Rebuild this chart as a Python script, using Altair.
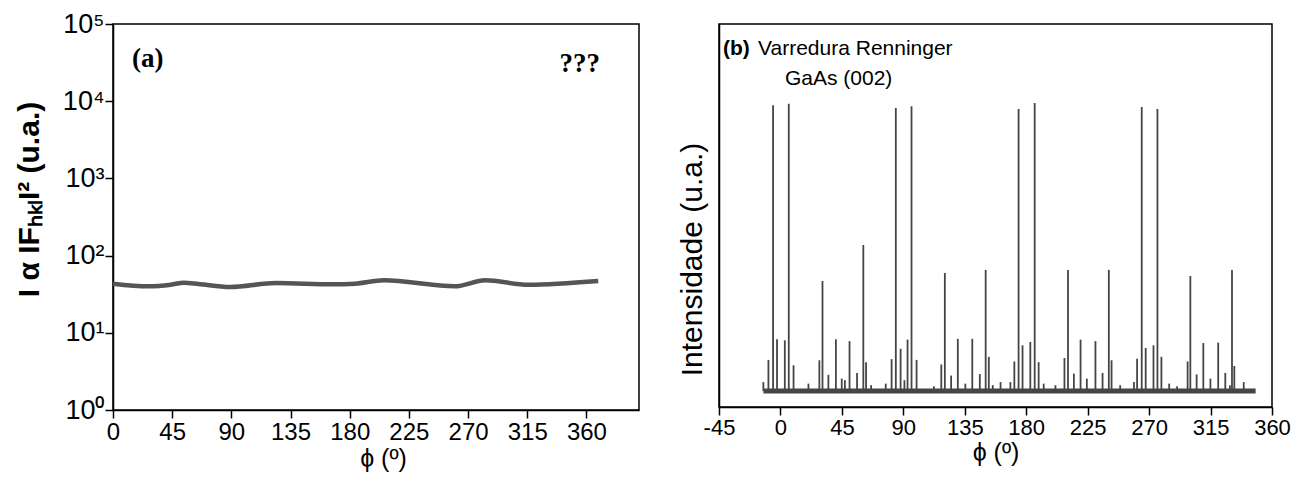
import altair as alt
import pandas as pd

# ---------------- Panel (a) data ----------------
phi_a = [0, 27, 44, 54, 65, 89, 124, 167, 184, 206, 260, 283, 316, 369]
int_a = [43.3, 40.0, 42.0, 44.6, 42.9, 39.2, 44.2, 42.5, 43.3, 47.9, 40.0, 47.9, 42.0, 46.9]
ticks_a = [0, 45, 90, 135, 180, 225, 270, 315, 360]
yticks_a = [1, 10, 100, 1000, 10000, 100000]

# ---------------- Panel (b) data ----------------
strong_phi = [-5.4, 6.1, 84.5, 96.0, 174.4, 186.2, 264.6, 276.1]
strong_int = [78.8, 79.2, 78.1, 78.5, 77.8, 79.4, 78.3, 77.8]
medium_phi = [30.8, 60.7, 120.4, 150.3, 210.6, 240.5, 300.2, 330.7]
medium_int = [32.9, 42.3, 35.0, 35.8, 35.8, 35.8, 34.2, 35.8]
weak_phi = [-8.8, -2.5, 3.2, 9.6, 28.5, 35.1, 40.6, 50.6, 56.1, 62.7, 81.4, 88.0, 93.1, 99.7,
            117.8, 125.0, 129.9, 140.5, 146.0, 152.6, 171.3, 177.3, 183.0, 189.1, 208.0,
            214.9, 219.8, 230.7, 235.9, 242.5, 261.2, 267.5, 273.2, 279.0, 298.2, 304.8,
            309.7, 320.6, 325.8, 332.4]
weak_int = [12.3, 17.7, 17.4, 10.9, 12.2, 8.4, 17.7, 17.2, 8.9, 11.7, 12.5, 15.2, 17.6, 12.3,
            11.1, 8.2, 17.8, 17.8, 8.6, 13.1, 11.9, 16.1, 17.0, 11.7, 12.8,
            8.7, 17.6, 17.2, 8.9, 12.2, 12.6, 15.4, 16.1, 13.1, 11.9, 8.5,
            16.7, 16.8, 8.9, 10.7]
small_phi = [-12.5, 20.5, 44.9, 47.2, 66.4, 77.1, 90.8, 112.4, 135.4, 155.5, 161.2, 168.4,
             192.8, 201.4, 224.4, 248.8, 258.9, 284.7, 290.5, 314.9, 329.2, 339.3]
small_int = [6.5, 6.1, 7.4, 7.0, 5.7, 6.1, 7.0, 5.4, 6.1, 5.7, 6.5, 6.5,
             6.1, 5.7, 7.4, 5.7, 6.5, 6.1, 5.4, 7.4, 5.7, 6.5]
baseline_range = [-12.5, 348.0]
baseline_level = 4.2
ticks_b = [-45, 0, 45, 90, 135, 180, 225, 270, 315, 360]

FONT = "Liberation Sans"
GRAY = "#454545"

# ---------------- Panel (a) ----------------
df_a = pd.DataFrame({"phi": phi_a, "I": int_a})
xs_a = alt.Scale(domain=[0, 400], nice=False, zero=False)
ys_a = alt.Scale(type="log", domain=[1, 100000], nice=False)

line_a = alt.Chart(df_a).mark_line(color="#555555", strokeWidth=4.5, interpolate="monotone").encode(
    x=alt.X("phi:Q", scale=xs_a,
            axis=alt.Axis(values=ticks_a, title="ϕ  (º)", labelFontSize=24, titleFontSize=25,
                          titleFontWeight="normal", tickSize=8, labelPadding=2, titlePadding=2,
                          titleX=270, labelFlush=False)),
    y=alt.Y("I:Q", scale=ys_a,
            axis=alt.Axis(values=yticks_a, title="I α IFₕₖₗI² (u.a.)",
                          labelExpr='"10" + ["⁰","¹","²","³","⁴","⁵"][round(log(datum.value)/LN10)]',
                          labelFontSize=27, titleFontSize=30, titleFontWeight="bold",
                          tickSize=8, labelPadding=1, titlePadding=18, titleY=175)),
)

ann_a = pd.DataFrame({"phi": [14.4, 355], "I": [35200, 30300], "t": ["(a)", "???"]})
text_a1 = alt.Chart(ann_a.iloc[[0]]).mark_text(font="Liberation Serif", fontWeight="bold", fontSize=27,
                                               align="left", baseline="middle").encode(
    x=alt.X("phi:Q", scale=xs_a), y=alt.Y("I:Q", scale=ys_a), text="t:N")
text_a2 = alt.Chart(ann_a.iloc[[1]]).mark_text(font="Liberation Serif", fontWeight="bold", fontSize=27,
                                               align="center", baseline="middle").encode(
    x=alt.X("phi:Q", scale=xs_a), y=alt.Y("I:Q", scale=ys_a), text="t:N")

panel_a = alt.layer(line_a, text_a1, text_a2).properties(width=526, height=386)

# ---------------- Panel (b) ----------------
peaks = pd.DataFrame({
    "phi": strong_phi + medium_phi + weak_phi + small_phi,
    "val": strong_int + medium_int + weak_int + small_int,
})
peaks["base"] = baseline_level
xs_b = alt.Scale(domain=[-45, 360], nice=False, zero=False)
ys_b = alt.Scale(domain=[0, 100], nice=False)

rules_b = alt.Chart(peaks).mark_rule(color=GRAY, strokeWidth=1.8).encode(
    x=alt.X("phi:Q", scale=xs_b,
            axis=alt.Axis(values=ticks_b, title="ϕ (º)", labelFontSize=22, titleFontSize=25,
                          titleFontWeight="normal", tickSize=8, labelPadding=2, titlePadding=2,
                          labelFlush=False,
                          labelExpr='datum.value < 0 ? "-" + abs(datum.value) : "" + datum.value')),
    y=alt.Y("base:Q", scale=ys_b,
            axis=alt.Axis(title="Intensidade (u.a.)", labels=False, ticks=False, titleFontSize=30,
                          titleFontWeight="normal", titlePadding=12, titleY=235)),
    y2="val:Q",
)
base_df = pd.DataFrame({"x1": [baseline_range[0]], "x2": [baseline_range[1]], "y": [baseline_level]})
base_b = alt.Chart(base_df).mark_rule(color=GRAY, strokeWidth=5).encode(
    x=alt.X("x1:Q", scale=xs_b), x2="x2:Q", y=alt.Y("y:Q", scale=ys_b))

ann_b = pd.DataFrame({"phi": [-42.1, -16.4, 3.3], "val": [93.5, 93.5, 85.6],
                      "t": ["(b)", "Varredura Renninger", "GaAs (002)"]})
text_b1 = alt.Chart(ann_b.iloc[[0]]).mark_text(font=FONT, fontWeight="bold", fontSize=21,
                                               align="left", baseline="middle").encode(
    x=alt.X("phi:Q", scale=xs_b), y=alt.Y("val:Q", scale=ys_b), text="t:N")
text_b2 = alt.Chart(ann_b.iloc[[1, 2]]).mark_text(font=FONT, fontSize=21,
                                                  align="left", baseline="middle").encode(
    x=alt.X("phi:Q", scale=xs_b), y=alt.Y("val:Q", scale=ys_b), text="t:N")

panel_b = alt.layer(rules_b, base_b, text_b1, text_b2).properties(width=553, height=383)

chart = alt.hconcat(panel_a, panel_b, spacing=80, bounds="flush").properties(
    padding={"left": 5, "top": 1, "right": 5, "bottom": 0}
).configure_view(stroke="black", strokeWidth=1.5).configure_axis(
    domainColor="black", tickColor="black", labelColor="black", titleColor="black",
    labelFont=FONT, titleFont=FONT, grid=False, domainWidth=1.5, tickWidth=1.5
)

chart.save("out.html", embed_options={"renderer": "svg", "actions": False})
